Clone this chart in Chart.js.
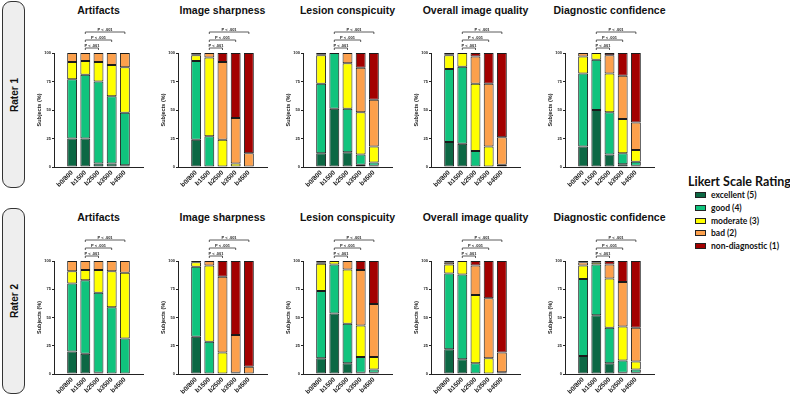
<!DOCTYPE html>
<html>
<head>
<meta charset="utf-8">
<script src="https://cdn.jsdelivr.net/npm/chart.js@4.4.1/dist/chart.umd.min.js"></script>
<style>
body { margin:0; background:#fff; width:790px; height:396px; position:relative; overflow:hidden; font-family:"Liberation Sans", Arial, sans-serif; }
.rater { position:absolute; left:2px; width:23px; border:1.5px solid #333; border-radius:9px; background:#eeeeee; box-sizing:border-box; }
.rater span { position:absolute; left:50%; top:50%; transform:translate(-50%,-50%) rotate(-90deg); font-weight:bold; font-size:10px; white-space:nowrap; color:#111; }
.ttl { position:absolute; transform:translate(-50%,-50%); font-weight:bold; font-size:10.5px; white-space:nowrap; color:#111; }
canvas { position:absolute; }
.lg { position:absolute; font-family:Lato, "Open Sans", sans-serif; color:#111; white-space:nowrap; }
.lgbox { position:absolute; width:11px; height:6px; border:1px solid #222; box-sizing:border-box; }
</style>
</head>
<body>
<div class="rater" style="top:1px;height:187px"><span>Rater 1</span></div>
<div class="rater" style="top:208px;height:186px"><span>Rater 2</span></div>
<script>
const bValues = ['b0/800', 'b1500', 'b2500', 'b3500', 'b4500'];
const likert = ['excellent (5)', 'good (4)', 'moderate (3)', 'bad (2)', 'non-diagnostic (1)'];
const likertColors = ['#0c6844', '#10c37d', '#ffff00', '#fca04c', '#a30000'];
const panelTitles = ['Artifacts', 'Image sharpness', 'Lesion conspicuity', 'Overall image quality', 'Diagnostic confidence'];
const bracketPairs = [[1, 2], [1, 3], [1, 4]];
const bracketText = ['P < .001', 'P < .001', 'P < .001'];

// % of subjects per b-value: [excellent, good, moderate, bad, non-diagnostic]
const artifacts1 = [[25,52,15,8,0],[25,56,12,7,0],[3,72,17,8,0],[3,59,27.5,10.5,0],[1.5,46,40,12.5,0]];
const sharpness1 = [[24,69,5,1,1],[0,27,69,4,0],[0,0,24,68,8],[0,0,3,40,57],[0,0,0,12,88]];
const lesion1 = [[12,61,25,1,1],[51,49,0,0,0],[13,38,40,9,0],[2,9,37,39,13],[1,3,14,41,41]];
const quality1 = [[22,64,12,1,1],[20.5,67.5,12,0,0],[0,14,59,24,3],[0,0,18,55,27],[0,0,2,24,74]];
const confidence1 = [[18,64,15,3,0],[50,44,6,0,0],[11,37,34,16,2],[2.5,9.5,30,38,20],[1,3.5,10.5,24,61]];

const artifacts2 = [[20,60,11,9,0],[18,65,9,8,0],[1,71,20,8,0],[0,59,32,9,0],[0,31.5,58,10.5,0]];
const sharpness2 = [[33,62,4,1,0],[0,28.5,67.5,4,0],[0,0,19,67,14],[0,0,1,33.5,65.5],[0,0,0,6.5,93.5]];
const lesion2 = [[14,59.5,24,1.5,1],[53.5,43.5,3,0,0],[9.5,35,48,7.5,0],[1,14,28,49,8],[1,3,11,47,38]];
const quality2 = [[22,67,8,2,1],[13,75,12,0,0],[0,9.5,60.5,26,4],[0,0,14,53,33],[0,0,1.5,17.5,81]];
const confidence2 = [[16,68,12,3,1],[52,45,2,1,0],[9.5,31.5,43.5,12.5,3],[1,11,30,39.5,18.5],[1,3,7,30,59]];

const rater1 = [artifacts1, sharpness1, lesion1, quality1, confidence1];
const rater2 = [artifacts2, sharpness2, lesion2, quality2, confidence2];

// layout of the grid
const axisX = [54, 178, 303, 431, 565];
const rowsLayout = [
    { data: rater1, top: 53, bottom: 167, titleY: 10 },
    { data: rater2, top: 261, bottom: 374, titleY: 217 }
];

const bracketPlugin = {
    id: 'brackets',
    afterDraw(chart) {
        const { ctx, chartArea, scales: { x } } = chart;
        const rise = [5, 13, 21];
        ctx.save();
        ctx.strokeStyle = '#333';
        ctx.lineWidth = 0.8;
        ctx.fillStyle = '#222';
        ctx.font = 'bold 4px "Liberation Sans", Arial';
        ctx.textAlign = 'center';
        ctx.textBaseline = 'bottom';
        bracketPairs.forEach(([a, b], k) => {
            const x1 = x.getPixelForValue(a), x2 = x.getPixelForValue(b);
            const y = chartArea.top - rise[k];
            ctx.beginPath();
            ctx.moveTo(x1, y + 2);
            ctx.lineTo(x1, y);
            ctx.lineTo(x2, y);
            ctx.lineTo(x2, y + 2);
            ctx.stroke();
            ctx.fillText(bracketText[k], (x1 + x2) / 2, y - 0.5);
        });
        ctx.restore();
    }
};

function makePanel(values, title, axis, top, bottom, titleY) {
    const L = axis - 28, T = top - 30;
    const W = 28 + 89 + 6, H = bottom + 24 - T;
    const cv = document.createElement('canvas');
    cv.width = W; cv.height = H;
    cv.style.left = L + 'px'; cv.style.top = T + 'px';
    cv.style.width = W + 'px'; cv.style.height = H + 'px';
    document.body.appendChild(cv);

    const t = document.createElement('div');
    t.className = 'ttl';
    t.textContent = title;
    t.style.left = (axis + 44.5) + 'px';
    t.style.top = titleY + 'px';
    document.body.appendChild(t);

    new Chart(cv.getContext('2d'), {
        type: 'bar',
        data: {
            datasets: likert.map((name, k) => ({
                label: name,
                data: values.map((bar, i) => ({ x: i, y: bar[k] })),
                backgroundColor: likertColors[k],
                borderColor: '#1b1b1b',
                borderWidth: 1,
                borderSkipped: false,
                barPercentage: 0.75,
                categoryPercentage: 1
            }))
        },
        options: {
            responsive: false,
            animation: false,
            layout: { padding: { top: 30, right: 6, left: 0, bottom: 0 } },
            plugins: { legend: { display: false }, tooltip: { enabled: false } },
            scales: {
                x: {
                    type: 'linear',
                    stacked: true,
                    min: -0.7,
                    max: 4.7,
                    grid: { drawOnChartArea: false, drawTicks: false },
                    border: { color: '#222', width: 1 },
                    afterBuildTicks: s => { s.ticks = bValues.map((_, i) => ({ value: i })); },
                    afterFit: s => { s.height = 24; },
                    ticks: {
                        autoSkip: false, maxRotation: 45, minRotation: 45, padding: 2,
                        font: { size: 6.5, weight: 'bold' }, color: '#222',
                        callback: v => bValues[v]
                    }
                },
                y: {
                    stacked: true,
                    min: 0,
                    max: 100,
                    afterFit: s => { s.width = 28; },
                    ticks: { stepSize: 25, padding: 1, font: { size: 4, weight: 'bold' }, color: '#222' },
                    grid: { drawOnChartArea: false, tickLength: 2, color: '#222' },
                    border: { color: '#222', width: 1 },
                    title: {
                        display: true, text: 'Subjects (%)', color: '#222',
                        font: { size: 5.5, weight: 'bold' }, padding: { top: 10, bottom: 0 }
                    }
                }
            }
        },
        plugins: [bracketPlugin]
    });
}

rowsLayout.forEach(r => {
    r.data.forEach((values, c) => makePanel(values, panelTitles[c], axisX[c], r.top, r.bottom, r.titleY));
});

// legend
const lgTitle = document.createElement('div');
lgTitle.className = 'lg';
lgTitle.textContent = 'Likert Scale Rating';
lgTitle.style.cssText += 'left:688px;top:174px;font-size:12.5px;font-weight:bold;';
document.body.appendChild(lgTitle);
likert.forEach((name, k) => {
    const cy = 195 + k * 12.8;
    const box = document.createElement('div');
    box.className = 'lgbox';
    box.style.left = '695px';
    box.style.top = (cy - 3) + 'px';
    box.style.background = likertColors[k];
    document.body.appendChild(box);
    const txt = document.createElement('div');
    txt.className = 'lg';
    txt.textContent = name;
    txt.style.cssText += 'left:711px;top:' + (cy - 6) + 'px;font-size:8.5px;font-weight:bold;line-height:12px;';
    document.body.appendChild(txt);
});
</script>
</body>
</html>
